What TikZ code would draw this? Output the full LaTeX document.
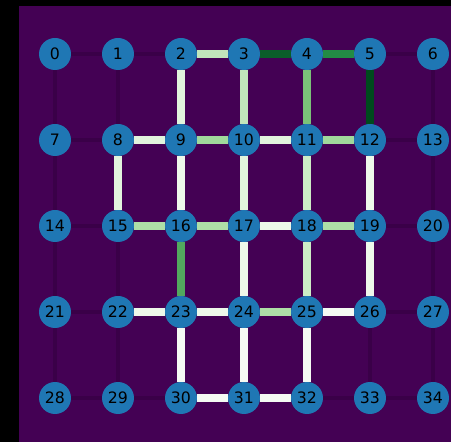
\documentclass[tikz,border=0pt]{standalone}
\usepackage{fontspec}
\setmainfont{DejaVu Sans}
\usepackage{tikz}
\usetikzlibrary{positioning}
\usepackage{xcolor}

\definecolor{bgpurple}{HTML}{440154}
\definecolor{idlecol}{HTML}{3A0048}
\definecolor{vtxblue}{HTML}{1F77B4}
\definecolor{gw0}{HTML}{F5FAF3}
\definecolor{gw1}{HTML}{EEF8EA}
\definecolor{gw2}{HTML}{E2F4DD}
\definecolor{gw3}{HTML}{CDECC6}
\definecolor{gl1}{HTML}{C1E6BB}
\definecolor{gl2}{HTML}{AEDEA7}
\definecolor{gl3}{HTML}{A0D99B}
\definecolor{gm1}{HTML}{7BC279}
\definecolor{gm2}{HTML}{52A85E}
\definecolor{gd1}{HTML}{238B45}
\definecolor{gd2}{HTML}{0B5D2A}
\definecolor{gd3}{HTML}{004A1E}

\begin{document}
\begin{tikzpicture}[
  x=0.75pt, y=-0.75pt,
  node distance=40.5pt and 23.25pt,
  vtx/.style={circle, fill=vtxblue, minimum size=24pt, inner sep=0pt,
              outer sep=0pt, font=\fontsize{11.8}{13}\selectfont},
  idle/.style={draw=idlecol, line width=2.6pt},
  hot/.style={draw=#1, line width=5.6pt},
]
  \useasboundingbox (0,0) rectangle (451,442);
  \fill[black] (0,0) rectangle (451,442);
  \fill[bgpurple] (19,6) rectangle (451,442);

  % Vertices, row by row
  \node[vtx] (n0) at (55,54) {0};
  \node[vtx, right=of n0] (n1) {1};
  \node[vtx, right=of n1] (n2) {2};
  \node[vtx, right=of n2] (n3) {3};
  \node[vtx, right=of n3] (n4) {4};
  \node[vtx, right=of n4] (n5) {5};
  \node[vtx, right=of n5] (n6) {6};

  \node[vtx, below=of n0] (n7) {7};
  \node[vtx, below=of n1] (n8) {8};
  \node[vtx, below=of n2] (n9) {9};
  \node[vtx, below=of n3] (n10) {10};
  \node[vtx, below=of n4] (n11) {11};
  \node[vtx, below=of n5] (n12) {12};
  \node[vtx, below=of n6] (n13) {13};

  \node[vtx, below=of n7] (n14) {14};
  \node[vtx, below=of n8] (n15) {15};
  \node[vtx, below=of n9] (n16) {16};
  \node[vtx, below=of n10] (n17) {17};
  \node[vtx, below=of n11] (n18) {18};
  \node[vtx, below=of n12] (n19) {19};
  \node[vtx, below=of n13] (n20) {20};

  \node[vtx, below=of n14] (n21) {21};
  \node[vtx, below=of n15] (n22) {22};
  \node[vtx, below=of n16] (n23) {23};
  \node[vtx, below=of n17] (n24) {24};
  \node[vtx, below=of n18] (n25) {25};
  \node[vtx, below=of n19] (n26) {26};
  \node[vtx, below=of n20] (n27) {27};

  \node[vtx, below=of n21] (n28) {28};
  \node[vtx, below=of n22] (n29) {29};
  \node[vtx, below=of n23] (n30) {30};
  \node[vtx, below=of n24] (n31) {31};
  \node[vtx, below=of n25] (n32) {32};
  \node[vtx, below=of n26] (n33) {33};
  \node[vtx, below=of n27] (n34) {34};

  % Unused grid edges
  \draw[idle] (n0) -- (n1);  \draw[idle] (n1) -- (n2);  \draw[idle] (n5) -- (n6);
  \draw[idle] (n7) -- (n8);  \draw[idle] (n12) -- (n13);
  \draw[idle] (n14) -- (n15); \draw[idle] (n19) -- (n20);
  \draw[idle] (n21) -- (n22); \draw[idle] (n26) -- (n27);
  \draw[idle] (n28) -- (n29); \draw[idle] (n29) -- (n30);
  \draw[idle] (n32) -- (n33); \draw[idle] (n33) -- (n34);
  \draw[idle] (n0) -- (n7);  \draw[idle] (n1) -- (n8);  \draw[idle] (n6) -- (n13);
  \draw[idle] (n7) -- (n14); \draw[idle] (n13) -- (n20);
  \draw[idle] (n14) -- (n21); \draw[idle] (n15) -- (n22); \draw[idle] (n20) -- (n27);
  \draw[idle] (n21) -- (n28); \draw[idle] (n22) -- (n29);
  \draw[idle] (n26) -- (n33); \draw[idle] (n27) -- (n34);

  % Used edges, shaded by load
  \draw[hot=gl1] (n2) -- (n3);
  \draw[hot=gd2] (n3) -- (n4);
  \draw[hot=gd1] (n4) -- (n5);
  \draw[hot=gw2] (n8) -- (n9);
  \draw[hot=gl3] (n9) -- (n10);
  \draw[hot=gw2] (n10) -- (n11);
  \draw[hot=gl3] (n11) -- (n12);
  \draw[hot=gl2] (n15) -- (n16);
  \draw[hot=gl2] (n16) -- (n17);
  \draw[hot=gw1] (n17) -- (n18);
  \draw[hot=gl2] (n18) -- (n19);
  \draw[hot=gw1] (n22) -- (n23);
  \draw[hot=gw1] (n23) -- (n24);
  \draw[hot=gl2] (n24) -- (n25);
  \draw[hot=gw0] (n25) -- (n26);
  \draw[hot=gw0] (n30) -- (n31);
  \draw[hot=gw0] (n31) -- (n32);

  \draw[hot=gw2] (n2) -- (n9);
  \draw[hot=gl1] (n3) -- (n10);
  \draw[hot=gm1] (n4) -- (n11);
  \draw[hot=gd3] (n5) -- (n12);
  \draw[hot=gw2] (n8) -- (n15);
  \draw[hot=gw1] (n9) -- (n16);
  \draw[hot=gw2] (n10) -- (n17);
  \draw[hot=gw3] (n11) -- (n18);
  \draw[hot=gw1] (n12) -- (n19);
  \draw[hot=gm2] (n16) -- (n23);
  \draw[hot=gw1] (n17) -- (n24);
  \draw[hot=gw3] (n18) -- (n25);
  \draw[hot=gw1] (n19) -- (n26);
  \draw[hot=gw0] (n23) -- (n30);
  \draw[hot=gw0] (n24) -- (n31);
  \draw[hot=gw0] (n25) -- (n32);
\end{tikzpicture}
\end{document}
